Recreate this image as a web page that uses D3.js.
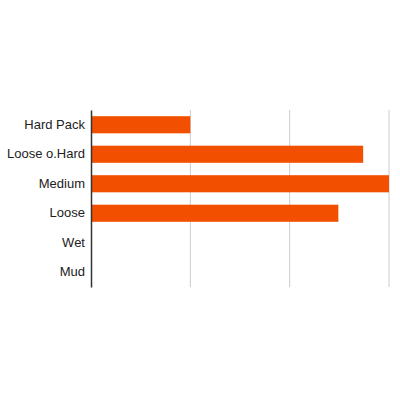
<!DOCTYPE html>
<html>
<head>
<meta charset="utf-8">
<script src="https://cdn.jsdelivr.net/npm/d3@7"></script>
<style>
  body { margin: 0; background: #fff; }
</style>
</head>
<body>
<div id="chart"></div>
<script>
// chart data
var categories = ["Hard Pack", "Loose o.Hard", "Medium", "Loose", "Wet", "Mud"];
var values = [1, 2.74, 3, 2.49, 0, 0];
var xTicks = [0, 1, 2, 3];

var width = 400, height = 400;
var margin = { top: 110, right: 11, bottom: 113, left: 91 };
var innerW = width - margin.left - margin.right;
var innerH = height - margin.top - margin.bottom;

var svg = d3.select("#chart")
  .append("svg")
  .attr("width", width)
  .attr("height", height)
  .append("g")
  .attr("transform", "translate(" + margin.left + "," + margin.top + ")");

var x = d3.scaleLinear().domain([0, 3]).range([0, innerW]);
var y = d3.scaleBand().domain(categories).range([0, innerH]).paddingInner(0.42).paddingOuter(0.21);

// vertical gridlines
svg.selectAll(".grid")
  .data(xTicks.slice(1))
  .enter()
  .append("line")
  .attr("x1", d => x(d))
  .attr("x2", d => x(d))
  .attr("y1", 0)
  .attr("y2", innerH)
  .attr("stroke", "#cccccc")
  .attr("stroke-width", 1);

// bars
svg.selectAll(".bar")
  .data(categories)
  .enter()
  .append("rect")
  .attr("x", 0)
  .attr("y", d => y(d))
  .attr("width", (d, i) => x(values[i]))
  .attr("height", y.bandwidth())
  .attr("fill", "#f25000");

// y axis
var yAxis = svg.append("g")
  .call(d3.axisLeft(y).tickSize(0).tickPadding(6));
yAxis.select(".domain").attr("stroke", "#333").attr("stroke-width", 1.5);
yAxis.selectAll("text")
  .style("font-family", "'Liberation Sans', Arial, sans-serif")
  .style("font-size", "13px")
  .attr("fill", "#222");
</script>
</body>
</html>
